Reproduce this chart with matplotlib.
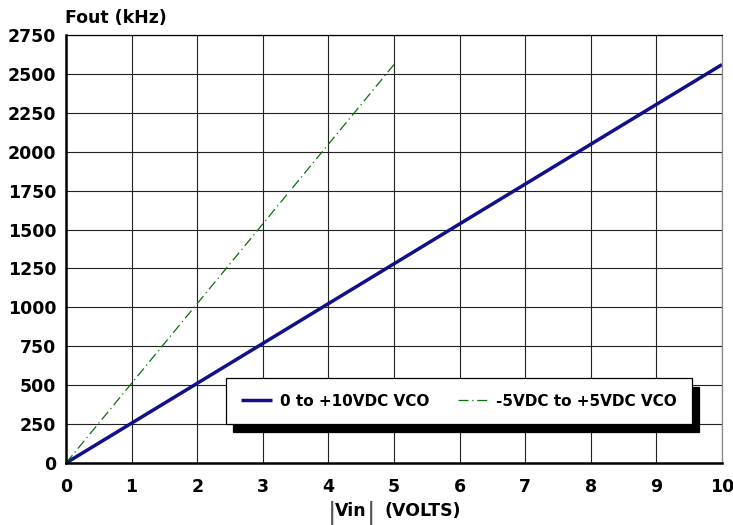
import matplotlib.pyplot as plt

# data
vin_pos = [0, 10]
fout_pos = [0, 2560]
vin_bip = [0, 5]
fout_bip = [0, 2560]
xticks = list(range(0, 11))
yticks = list(range(0, 2751, 250))

plt.rcParams['font.family'] = ['DejaVu Sans']
plt.rcParams['font.weight'] = 'bold'

fig = plt.figure(figsize=(7.33, 5.25), dpi=100)
ax = fig.add_axes([66 / 733, 1 - 463 / 525, 656 / 733, 428 / 525])

ax.plot(vin_pos, fout_pos, color="#10108c", linewidth=2.5, label="0 to +10VDC VCO",
        solid_capstyle="butt")
ax.plot(vin_bip, fout_bip, color="#0a700a", linewidth=0.9, linestyle=(0, (8, 3, 1, 3)),
        label="-5VDC to +5VDC VCO")

ax.set_xlim(0, 10)
ax.set_ylim(0, 2750)
ax.set_xticks(xticks)
ax.set_yticks(yticks)
ax.tick_params(axis="x", length=0, labelsize=12.5, pad=11)
ax.tick_params(axis="y", length=0, labelsize=12.5, pad=7)
for lab in ax.get_xticklabels() + ax.get_yticklabels():
    lab.set_fontweight("bold")
ax.grid(True, color="#222222", linewidth=0.8)
ax.set_axisbelow(True)

ax.spines["left"].set_linewidth(1.8)
ax.spines["bottom"].set_linewidth(1.8)
ax.spines["top"].set_linewidth(0.9)
ax.spines["right"].set_linewidth(0.9)
ax.spines["right"].set_color("#888888")

fig.text(65 / 733, 1 - 18 / 525, "Fout (kHz)", fontsize=12.5, fontweight="bold",
         ha="left", va="center")
# x label: |Vin|  (VOLTS) with thin absolute-value bars
fig.text(351 / 733, 1 - 511 / 525, "Vin", fontsize=12.5, fontweight="bold",
         ha="center", va="center")
for bx in (332, 371):
    fig.text(bx / 733, 1 - 513 / 525, "|", fontsize=18, fontweight="normal",
             color="#555555", ha="center", va="center")
fig.text(384 / 733, 1 - 511 / 525, "(VOLTS)", fontsize=12.5, fontweight="bold",
         ha="left", va="center")

leg = ax.legend(loc="lower left", bbox_to_anchor=(0.244, 0.091, 0.71, 0.105), mode="expand",
                ncol=2, fancybox=False, framealpha=1, edgecolor="black",
                shadow={"ox": 5, "oy": -6, "color": "black", "alpha": 1},
                prop={"weight": "bold", "size": 11}, handlelength=2.0, handletextpad=0.5,
                borderaxespad=0, borderpad=1.0, columnspacing=1.8)
leg.get_frame().set_linewidth(0.9)

fig.savefig("out.png", dpi=100)
